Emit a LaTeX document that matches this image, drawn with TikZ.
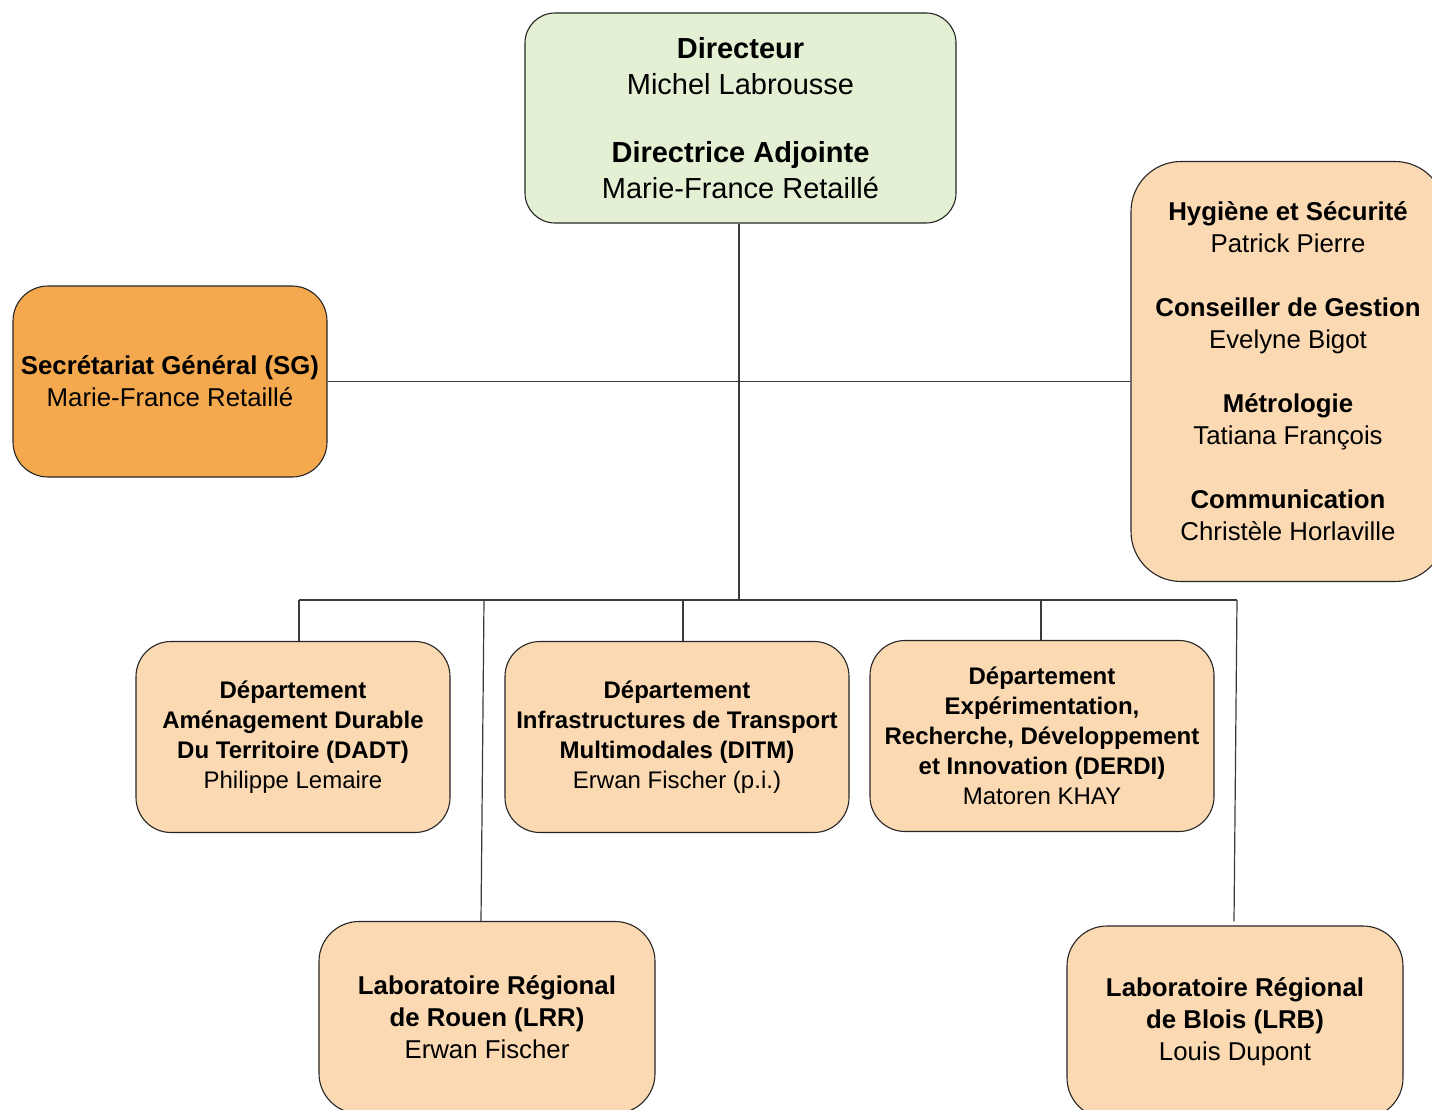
\documentclass[tikz,border=0pt]{standalone}
\usepackage{fontspec}
\setmainfont{Liberation Sans}
\usetikzlibrary{positioning}
\definecolor{dirgreen}{HTML}{E3F0D4}
\definecolor{sgorange}{HTML}{F4A94F}
\definecolor{peach}{HTML}{FBD9B3}
\definecolor{linegray}{HTML}{3A3A3A}
\tikzset{
  basic/.style  = {draw=black!85, line width=1.1pt, rectangle, align=center, inner sep=0pt},
  director/.style = {basic, fill=dirgreen, rounded corners=30pt,
                   minimum width=431pt, minimum height=210pt,
                   font=\fontsize{29pt}{36pt}\selectfont},
  secgen/.style = {basic, fill=sgorange, rounded corners=35pt,
                   minimum width=314pt, minimum height=191pt,
                   font=\fontsize{25.8pt}{32pt}\selectfont},
  side/.style   = {basic, fill=peach, rounded corners=50pt,
                   minimum width=314pt, minimum height=420pt,
                   font=\fontsize{25.8pt}{32pt}\selectfont},
  dept/.style   = {basic, fill=peach, rounded corners=35pt,
                   minimum width=344pt, minimum height=191pt,
                   font=\fontsize{24pt}{30pt}\selectfont},
  lab/.style    = {basic, fill=peach, rounded corners=40pt,
                   minimum width=336pt, minimum height=192pt,
                   font=\fontsize{25.8pt}{32pt}\selectfont},
  link/.style   = {draw=linegray, line width=1.2pt}
}

\begin{document}
\begin{tikzpicture}[x=1pt,y=-1pt]
\useasboundingbox (0,0) rectangle (1432,1110);
\clip (0,0) rectangle (1432,1110);

% direction
\node[director] (dir) at (740.5,118) {\textbf{Directeur}\\ Michel Labrousse\\[32pt]
  \textbf{Directrice Adjointe}\\ Marie-France Retaillé};

% staff on both sides
\node[secgen] (sg) at (170,381.5) {\textbf{Secrétariat Général (SG)}\\ Marie-France Retaillé};
\node[side] (side) at (1288,371.5) {\textbf{Hygiène et Sécurité}\\ Patrick Pierre\\[32pt]
  \textbf{Conseiller de Gestion}\\ Evelyne Bigot\\[32pt]
  \textbf{Métrologie}\\ Tatiana François\\[32pt]
  \textbf{Communication}\\ Christèle Horlaville};

% the departments
\node[dept, minimum width=314pt] (dadt) at (293,737) {\textbf{Département}\\ \textbf{Aménagement Durable}\\
  \textbf{Du Territoire (DADT)}\\ Philippe Lemaire};
\node[dept] (ditm) at (677,737) {\textbf{Département}\\ \textbf{Infrastructures de Transport}\\
  \textbf{Multimodales (DITM)}\\ Erwan Fischer (p.i.)};
\node[dept] (derdi) at (1042,736) {\textbf{Département}\\ \textbf{Expérimentation,}\\
  \textbf{Recherche, Développement}\\ \textbf{et Innovation (DERDI)}\\ Matoren KHAY};

% the regional laboratories
\node[lab] (lrr) at (487,1017.5) {\textbf{Laboratoire Régional}\\ \textbf{de Rouen (LRR)}\\ Erwan Fischer};
\node[lab] (lrb) at (1235,1022) {\textbf{Laboratoire Régional}\\ \textbf{de Blois (LRB)}\\ Louis Dupont};

% bus coordinates
\coordinate (hub) at (739,600);
\coordinate (busL) at (299,600);
\coordinate (busR) at (1237,600);
\coordinate (tapL) at (484,600);
\coordinate (tapD) at (683,600);
\coordinate (tapE) at (1041,600);

\draw[link] (dir.south -| hub) -- (hub);
\draw[link] (sg.east) -- (sg.east -| side.west);
\draw[link] (busL) -- (busR);
\draw[link] (busL) -- (busL |- dadt.north);
\draw[link] (tapD) -- (tapD |- ditm.north);
\draw[link] (tapE) -- (tapE |- derdi.north);
\draw[link] (tapL) -- ([xshift=-6pt]lrr.north);
\draw[link] (busR) -- ([xshift=-1pt,yshift=4pt]lrb.north);
\end{tikzpicture}
\end{document}
